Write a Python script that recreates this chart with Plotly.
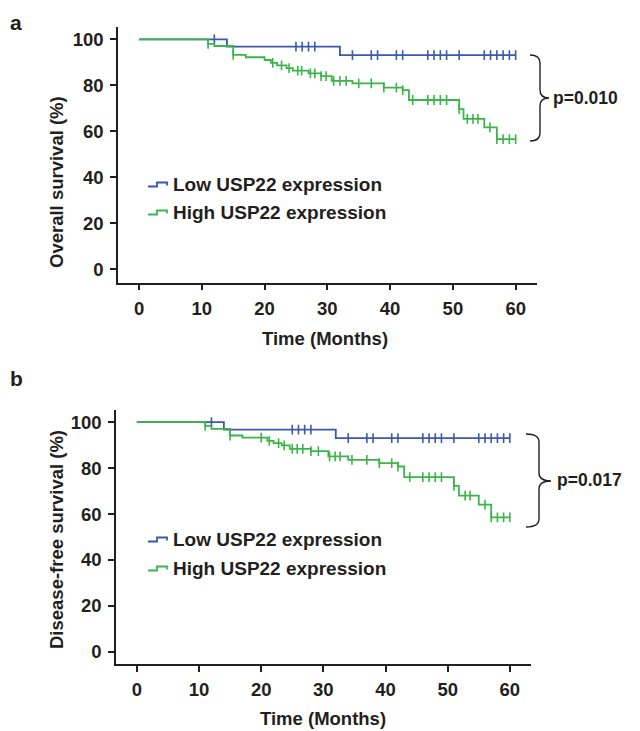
import plotly.graph_objects as go
import numpy as np

W, H = 640, 731
OFF = 8  # page body margin of the browser
BLUE = "#3a59a8"
GREEN = "#3bb54a"
INK = "#231f20"
FONT = "Liberation Sans"

# ---------------- data ----------------
months_ticks = [0, 10, 20, 30, 40, 50, 60]
pct_ticks = [0, 20, 40, 60, 80, 100]

# Panel a: overall survival
a_low_t = [0, 14, 32, 60]
a_low_s = [100, 96.8, 93.1, 93.1]
a_low_cens = [12, 25, 26, 27, 28, 34, 37, 38, 41, 42, 46, 47, 48, 49, 51, 55, 56, 57, 58, 59, 60]

a_high_t = [0, 11, 12, 15, 17, 20, 21, 22, 23.5, 24.5, 27, 29, 30.7, 34, 39, 42, 43, 51, 51.7, 55, 57, 60]
a_high_s = [100, 98.0, 97.1, 93.2, 92.2, 91.0, 89.8, 88.7, 87.5, 86.4, 85.2, 84.0, 81.9, 80.8, 79.0, 77.9, 73.6, 69.6, 65.4, 61.7, 56.6, 56.6]
a_high_cens = [11, 15, 21.3, 22.7, 23.9, 25.3, 25.9, 27.3, 28, 29, 29.8, 31, 32, 33, 35, 37, 39, 41, 42,
               43.6, 46, 47, 48, 49, 51, 52.3, 53.2, 54, 55.9, 57, 58, 59, 60]

# Panel b: disease-free survival
b_low_t = [0, 14, 32, 60]
b_low_s = [100, 96.8, 93.1, 93.1]
b_low_cens = [12, 25, 26, 27, 28, 34, 37, 38, 41, 42, 46, 47, 48, 49, 51, 55, 56, 57, 58, 59, 60]

b_high_t = [0, 11, 12, 15, 17, 21, 22, 23.3, 24.6, 28, 30.8, 34, 39, 42, 43, 51, 51.8, 55, 57, 60]
b_high_s = [100, 98.4, 97.1, 94.2, 93.3, 91.9, 90.9, 89.9, 88.4, 87.4, 85.1, 83.6, 82.2, 80.7, 76.1, 72.3, 68.0, 64.1, 58.6, 58.6]
b_high_cens = [11, 15, 20, 21.3, 22.8, 23.7, 25, 25.8, 26.7, 28, 29.2, 31, 31.9, 32.7, 34.6, 37, 39, 41, 42,
               43.9, 46, 47, 48, 49, 51, 52.8, 53.6, 56, 57, 58, 59, 60]

legend_labels = ["Low USP22 expression", "High USP22 expression"]
y_titles = ["Overall survival (%)", "Disease-free survival (%)"]
x_title = "Time (Months)"
p_texts = ["p=0.010", "p=0.017"]
panel_labels = ["a", "b"]


def surv_at(ts, ss, t):
    idx = np.searchsorted(np.array(ts), t, side="right") - 1
    return ss[max(idx, 0)]


def px(x):
    return (x - OFF) / W


def py(y):
    return 1 - (y - OFF) / H


fig = go.Figure()

panels = [
    dict(xa="x", ya="y", low=(a_low_t, a_low_s, a_low_cens), high=(a_high_t, a_high_s, a_high_cens)),
    dict(xa="x2", ya="y2", low=(b_low_t, b_low_s, b_low_cens), high=(b_high_t, b_high_s, b_high_cens)),
]

for p in panels:
    for (ts, ss, cens), col in [(p["low"], BLUE), (p["high"], GREEN)]:
        fig.add_trace(go.Scatter(x=ts, y=ss, mode="lines", line=dict(color=col, width=1.8, shape="hv"),
                                 xaxis=p["xa"], yaxis=p["ya"], showlegend=False, hoverinfo="skip"))
        fig.add_trace(go.Scatter(x=cens, y=[surv_at(ts, ss, c) for c in cens], mode="markers",
                                 marker=dict(symbol="line-ns", size=7, line=dict(color=col, width=1.6)),
                                 xaxis=p["xa"], yaxis=p["ya"], showlegend=False, hoverinfo="skip"))

axis_common = dict(showline=True, linecolor=INK, linewidth=1.5, ticks="outside", ticklen=6, tickwidth=1.5,
                   tickcolor=INK, showgrid=False, zeroline=False,
                   tickfont=dict(family=FONT, size=18.5, color=INK, weight="bold"))

fig.update_layout(
    width=W, height=H, margin=dict(l=0, r=0, t=0, b=0),
    paper_bgcolor="white", plot_bgcolor="white", showlegend=False,
    xaxis=dict(domain=[px(118), px(537)], range=[-3.35, 63.4], tickvals=months_ticks, anchor="y",
               ticklabelstandoff=2, **axis_common),
    yaxis=dict(domain=[py(282.7), py(26.7)], range=[-5.9, 105.5], tickvals=pct_ticks, anchor="x",
               ticklabelstandoff=3, **axis_common),
    xaxis2=dict(domain=[px(116), px(531)], range=[-3.35, 63.4], tickvals=months_ticks, anchor="y2",
                ticklabelstandoff=2, **axis_common),
    yaxis2=dict(domain=[py(664.3), py(410)], range=[-5.4, 105.3], tickvals=pct_ticks, anchor="x2",
                ticklabelstandoff=3, **axis_common),
)

ann = []
shapes = []
TF = dict(family=FONT, size=18.5, color=INK, weight="bold")
PF = dict(family=FONT, size=17.5, color=INK, weight="bold")
ann.append(dict(x=px(325), y=py(338), text=x_title, font=TF))
ann.append(dict(x=px(323), y=py(718), text=x_title, font=TF))
ann.append(dict(x=px(56), y=py(182), text=y_titles[0], textangle=-90, font=TF))
ann.append(dict(x=px(56), y=py(540), text=y_titles[1], textangle=-90, font=TF))
ann.append(dict(x=px(16), y=py(22), text=panel_labels[0], font=dict(family=FONT, size=21, color=INK, weight="bold")))
ann.append(dict(x=px(16), y=py(378), text=panel_labels[1], font=dict(family=FONT, size=21, color=INK, weight="bold")))
ann.append(dict(x=px(552), y=py(98), text=p_texts[0], xanchor="left", font=PF))
ann.append(dict(x=px(556), y=py(480), text=p_texts[1], xanchor="left", font=PF))

# legends (step glyph + text)
legend_rows = [(184.5, BLUE, legend_labels[0]), (212.5, GREEN, legend_labels[1]),
               (539.5, BLUE, legend_labels[0]), (568.5, GREEN, legend_labels[1])]
for y0, col, lab in legend_rows:
    x0 = 148
    path = (f"M {px(x0)},{py(y0 + 2)} L {px(x0 + 9)},{py(y0 + 2)} L {px(x0 + 9)},{py(y0 - 2)} "
            f"L {px(x0 + 19)},{py(y0 - 2)} L {px(x0 + 19)},{py(y0 + 1)}")
    shapes.append(dict(type="path", xref="paper", yref="paper", path=path, line=dict(color=col, width=1.8)))
    ann.append(dict(x=px(172), y=py(y0), text=lab, xanchor="left",
                    font=dict(family=FONT, size=19, color=INK, weight="bold")))

for a in ann:
    a.setdefault("xanchor", "center")
    a.update(xref="paper", yref="paper", showarrow=False, yanchor="middle", borderpad=0)


# curly braces
def brace(xl, xm, xt, top, tip, bot):
    r = 8
    return (f"M {px(xl)},{py(top)} Q {px(xm)},{py(top)} {px(xm)},{py(top + r)} "
            f"L {px(xm)},{py(tip - r)} Q {px(xm)},{py(tip)} {px(xt)},{py(tip)} "
            f"Q {px(xm)},{py(tip)} {px(xm)},{py(tip + r)} "
            f"L {px(xm)},{py(bot - r)} Q {px(xm)},{py(bot)} {px(xl)},{py(bot)}")


shapes.append(dict(type="path", xref="paper", yref="paper", path=brace(530, 540, 549, 55, 98, 141),
                   line=dict(color=INK, width=1.4)))
shapes.append(dict(type="path", xref="paper", yref="paper", path=brace(526, 539, 551, 434, 481, 527),
                   line=dict(color=INK, width=1.4)))

fig.update_layout(annotations=ann, shapes=shapes)
fig.write_html("out.html")
